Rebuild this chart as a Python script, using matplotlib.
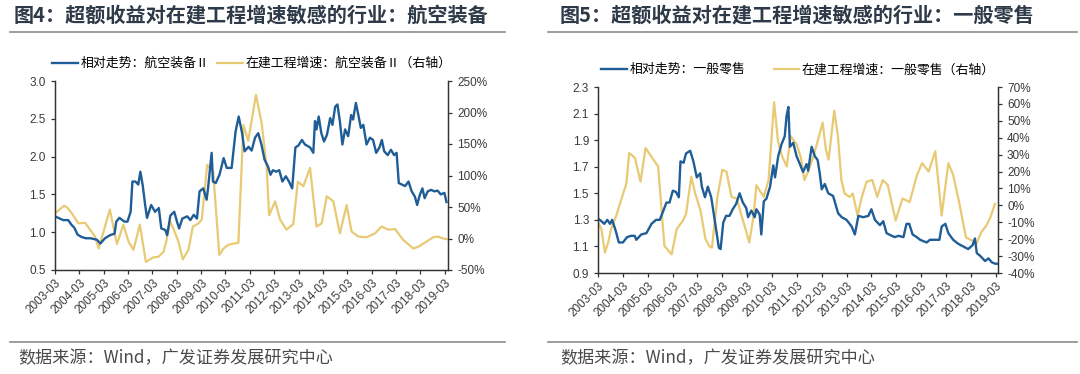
import numpy as np
import pandas as pd
import matplotlib
matplotlib.use('Agg')
import matplotlib.pyplot as plt
import matplotlib.dates as mdates
from matplotlib.ticker import FuncFormatter

plt.rcParams['font.family'] = ['Liberation Sans', 'Noto Sans CJK SC']

# ---- Figure 4: aviation equipment ------------------------------------------
av_rel_dates = [
    '2003-03-01', '2003-07-01', '2003-09-15', '2003-11-01', '2003-12-15', '2004-02-01',
    '2004-03-25', '2004-06-01', '2004-08-15', '2004-11-20', '2005-01-08', '2005-03-20',
    '2005-06-01', '2005-08-10', '2005-09-05', '2005-10-22', '2006-01-05', '2006-02-20',
    '2006-04-08', '2006-05-05', '2006-06-20', '2006-08-01', '2006-09-01', '2006-10-05',
    '2006-11-15', '2006-12-10', '2007-02-10', '2007-04-10', '2007-06-05', '2007-07-12',
    '2007-09-10', '2007-10-08', '2007-11-25', '2008-01-22', '2008-03-10', '2008-04-05',
    '2008-05-22', '2008-08-05', '2008-09-20', '2008-11-10', '2008-12-28', '2009-02-05',
    '2009-04-01', '2009-05-22', '2009-06-12', '2009-08-05', '2009-08-25', '2009-10-05',
    '2009-12-01', '2010-02-01', '2010-03-20', '2010-06-01', '2010-07-30', '2010-09-15',
    '2010-11-05', '2010-12-12', '2011-02-10', '2011-03-28', '2011-05-18', '2011-07-05',
    '2011-08-22', '2011-10-08', '2011-11-28', '2012-01-05', '2012-02-10', '2012-03-28',
    '2012-05-15', '2012-07-01', '2012-08-22', '2012-10-08', '2012-11-25', '2013-01-12',
    '2013-03-01', '2013-04-20', '2013-06-05', '2013-08-22', '2013-10-08', '2013-11-02',
    '2013-11-25', '2013-12-28', '2014-02-05', '2014-03-18', '2014-05-01', '2014-06-18',
    '2014-07-22', '2014-09-01', '2014-10-05', '2014-11-10', '2014-12-18', '2015-01-28',
    '2015-03-15', '2015-04-28', '2015-05-28', '2015-07-08', '2015-08-15', '2015-09-20',
    '2015-10-28', '2015-12-15', '2016-02-05', '2016-03-22', '2016-05-08', '2016-06-25',
    '2016-08-01', '2016-09-05', '2016-10-28', '2016-12-15', '2017-02-01', '2017-03-10',
    '2017-04-12', '2017-05-30', '2017-07-15', '2017-09-05', '2017-10-22', '2017-12-10',
    '2018-01-12', '2018-02-20', '2018-04-01', '2018-05-05', '2018-06-20', '2018-08-08',
    '2018-09-28', '2018-11-15', '2019-01-01', '2019-02-25', '2019-03-28']
av_rel = [
    1.21, 1.16, 1.16, 1.10, 1.06, 0.97, 0.94, 0.92, 0.92, 0.90, 0.85, 0.92,
    0.96, 0.98, 1.14, 1.19, 1.14, 1.14, 1.27, 1.67, 1.67, 1.63, 1.80, 1.63,
    1.34, 1.19, 1.36, 1.27, 1.32, 1.05, 1.03, 0.96, 1.22, 1.27, 1.12, 1.05,
    1.18, 1.21, 1.16, 1.23, 1.18, 1.54, 1.58, 1.43, 1.58, 2.05, 1.67, 1.65,
    1.76, 1.98, 1.85, 1.85, 2.33, 2.53, 2.31, 2.07, 2.13, 2.08, 2.25, 2.31,
    2.16, 1.96, 1.87, 1.76, 1.82, 1.80, 1.82, 1.67, 1.74, 1.67, 1.58, 2.12,
    2.15, 2.22, 2.16, 2.12, 2.05, 2.47, 2.36, 2.53, 2.31, 2.20, 2.29, 2.51,
    2.42, 2.66, 2.69, 2.47, 2.16, 2.36, 2.27, 2.55, 2.49, 2.71, 2.55, 2.38,
    2.42, 2.16, 2.25, 2.22, 2.05, 2.12, 2.22, 2.07, 2.02, 2.09, 2.02, 2.05,
    1.65, 1.63, 1.61, 1.67, 1.54, 1.47, 1.36, 1.49, 1.58, 1.45, 1.54, 1.56,
    1.54, 1.55, 1.50, 1.52, 1.40]

av_cip_dates = [
    '2003-03-01', '2003-07-15', '2003-09-01', '2003-11-08', '2004-02-15', '2004-05-25',
    '2004-08-08', '2004-10-22', '2004-12-15', '2005-06-01', '2005-09-15', '2005-12-20',
    '2006-03-08', '2006-05-20', '2006-08-25', '2006-11-22', '2007-03-15', '2007-06-01',
    '2007-08-15', '2007-10-01', '2007-11-22', '2008-01-08', '2008-03-25', '2008-05-30',
    '2008-08-22', '2008-10-28', '2009-01-20', '2009-03-10', '2009-05-30', '2009-08-28',
    '2009-11-28', '2010-01-30', '2010-04-12', '2010-06-28', '2010-09-10', '2010-11-25',
    '2011-02-05', '2011-06-01', '2011-08-25', '2011-11-08', '2011-12-15', '2012-03-15',
    '2012-05-28', '2012-09-01', '2012-12-12', '2013-02-18', '2013-05-12', '2013-08-20',
    '2013-11-25', '2014-02-10', '2014-04-28', '2014-08-05', '2014-11-10', '2015-02-20',
    '2015-05-05', '2015-08-15', '2015-12-15', '2016-04-20', '2016-07-28', '2016-11-08',
    '2017-02-15', '2017-06-15', '2017-11-15', '2018-01-30', '2018-06-01', '2018-09-12',
    '2018-11-25', '2019-02-05', '2019-03-28']
av_cip = [
    40, 52, 49, 40, 24, 25, 14, 3, -16, 46, -9, 22,
    -5, -18, 22, -37, -30, -29, -21, -2, 27, 16, -5, -33,
    -18, 19, 24, 30, 117, 106, -26, -16, -10, -8, -7, 180,
    155, 228, 183, 114, 37, 59, 30, 14, 23, 90, 83, 112,
    19, 24, 67, 59, 8, 53, 11, 3, 2, 8, 19, 14,
    15, -2, -16, -13, -5, 2, 3, 0, -1]

# ---- Figure 5: general retail ----------------------------------------------
rt_rel_dates = [
    '2003-03-01', '2003-04-20', '2003-06-01', '2003-07-15', '2003-08-25', '2003-09-25',
    '2003-11-15', '2004-01-01', '2004-03-01', '2004-05-01', '2004-07-01', '2004-08-20',
    '2004-09-15', '2004-11-25', '2005-02-10', '2005-04-25', '2005-07-01', '2005-08-25',
    '2005-10-10', '2005-12-01', '2006-01-15', '2006-03-05', '2006-04-20', '2006-06-01',
    '2006-06-25', '2006-08-10', '2006-09-15', '2006-11-15', '2007-01-01', '2007-02-20',
    '2007-04-10', '2007-05-05', '2007-06-20', '2007-08-01', '2007-09-20', '2007-11-10',
    '2008-01-10', '2008-02-05', '2008-03-15', '2008-04-25', '2008-06-15', '2008-08-01',
    '2008-09-20', '2008-11-10', '2008-12-28', '2009-02-15', '2009-03-15', '2009-05-01',
    '2009-06-20', '2009-07-15', '2009-09-01', '2009-09-25', '2009-11-01', '2009-12-10',
    '2010-02-01', '2010-03-20', '2010-04-15', '2010-06-01', '2010-07-20', '2010-09-05',
    '2010-10-01', '2010-10-28', '2010-11-20', '2011-01-08', '2011-02-25', '2011-04-15',
    '2011-06-01', '2011-07-22', '2011-08-15', '2011-10-05', '2011-11-20', '2012-01-01',
    '2012-02-01', '2012-03-01', '2012-04-15', '2012-06-05', '2012-08-15', '2012-10-28',
    '2012-12-20', '2013-03-01', '2013-05-15', '2013-07-01', '2013-08-22', '2013-11-01',
    '2014-01-15', '2014-03-01', '2014-04-22', '2014-07-05', '2014-08-22', '2014-10-10',
    '2014-12-25', '2015-02-10', '2015-04-01', '2015-06-15', '2015-07-30', '2015-09-08',
    '2015-10-28', '2015-12-28', '2016-02-15', '2016-04-01', '2016-05-22', '2016-07-08',
    '2016-09-20', '2016-11-25', '2016-12-28', '2017-02-20', '2017-04-05', '2017-06-15',
    '2017-08-28', '2017-11-10', '2018-01-22', '2018-03-28', '2018-05-01', '2018-05-28',
    '2018-07-15', '2018-09-28', '2018-11-15', '2019-01-05', '2019-02-22', '2019-04-01']
rt_rel = [
    1.31, 1.29, 1.27, 1.30, 1.27, 1.30, 1.22, 1.13, 1.13, 1.17, 1.18, 1.18,
    1.15, 1.19, 1.20, 1.27, 1.30, 1.30, 1.36, 1.43, 1.43, 1.52, 1.51, 1.47,
    1.74, 1.73, 1.80, 1.82, 1.74, 1.62, 1.65, 1.55, 1.47, 1.55, 1.47, 1.30,
    1.09, 1.08, 1.28, 1.33, 1.33, 1.38, 1.42, 1.50, 1.43, 1.39, 1.32, 1.37,
    1.32, 1.38, 1.34, 1.19, 1.44, 1.46, 1.55, 1.71, 1.62, 1.78, 1.87, 1.93,
    2.08, 2.15, 1.85, 1.88, 1.78, 1.72, 1.66, 1.72, 1.67, 1.85, 1.78, 1.75,
    1.65, 1.53, 1.57, 1.50, 1.48, 1.35, 1.32, 1.30, 1.25, 1.19, 1.33, 1.32,
    1.33, 1.38, 1.30, 1.26, 1.29, 1.20, 1.18, 1.17, 1.18, 1.17, 1.27, 1.27,
    1.19, 1.17, 1.15, 1.14, 1.13, 1.15, 1.15, 1.15, 1.25, 1.27, 1.20, 1.15,
    1.12, 1.10, 1.08, 1.11, 1.16, 1.05, 1.03, 0.99, 1.01, 0.98, 0.97, 0.97]

rt_cip_dates = [
    '2003-03-01', '2003-04-20', '2003-06-10', '2003-07-28', '2003-09-10', '2003-11-25',
    '2004-02-10', '2004-04-22', '2004-06-01', '2004-08-25', '2004-11-15', '2005-01-28',
    '2005-04-20', '2005-08-01', '2005-11-01', '2006-02-15', '2006-05-01', '2006-08-01',
    '2006-09-15', '2006-12-01', '2007-01-28', '2007-04-15', '2007-06-28', '2007-08-20',
    '2007-10-01', '2007-12-20', '2008-03-01', '2008-05-01', '2008-07-15', '2008-10-01',
    '2008-12-01', '2009-02-05', '2009-04-01', '2009-06-01', '2009-07-15', '2009-08-28',
    '2009-11-01', '2010-01-10', '2010-04-01', '2010-05-28', '2010-07-28', '2010-10-05',
    '2010-12-01', '2011-02-28', '2011-05-01', '2011-06-20', '2011-08-15', '2011-11-01',
    '2012-01-15', '2012-03-15', '2012-05-01', '2012-06-10', '2012-09-01', '2012-10-25',
    '2012-12-15', '2013-02-01', '2013-04-15', '2013-06-01', '2013-08-10', '2013-10-05',
    '2013-12-20', '2014-03-15', '2014-05-25', '2014-08-15', '2014-10-28', '2015-02-20',
    '2015-06-01', '2015-09-15', '2016-01-01', '2016-03-15', '2016-06-20', '2016-09-25',
    '2016-12-28', '2017-04-05', '2017-06-15', '2017-09-10', '2017-12-20', '2018-03-28',
    '2018-05-20', '2018-08-01', '2018-10-15', '2018-12-15', '2019-02-20']
rt_cip = [
    -10, -14, -28, -22, -14, -6, 4, 13, 31, 28, 14, 34,
    29, 23, -24, -29, -14, -9, -5, 17, 7, -3, -20, -24,
    -25, 5, 21, 20, 5, 4, -5, -14, -22, -7, 12, 9,
    5, 15, 61, 38, 29, 23, 41, 36, 28, 15, 20, 29,
    40, 49, 33, 27, 56, 41, 15, 7, 5, 7, -6, 4,
    14, 15, 5, 15, 12, -9, 4, 2, 18, 25, 20, 32,
    -6, 25, 18, 2, -19, -21, -23, -16, -12, -7, 1]

tick_dates = pd.date_range('2003-03-01', '2019-03-01', freq='12MS')

BLUE = '#1f5d96'
GOLD = '#e8c974'
TXT = '#3a3a3a'
W, H = 1080, 374


def px_axes(fig, x0, y0, x1, y1):
    # axes placed from pixel box (top-left origin)
    return fig.add_axes([x0 / W, 1 - y1 / H, (x1 - x0) / W, (y1 - y0) / H])


def panel(fig, box, rel_d, rel_v, cip_d, cip_v, yticks, y2ticks, xend,
          labels, colsp):
    ax = px_axes(fig, *box)
    ax2 = ax.twinx()
    ax.set_zorder(ax2.get_zorder() + 1)
    ax.patch.set_visible(False)

    l2, = ax2.plot(pd.to_datetime(cip_d), cip_v, color=GOLD, lw=1.6)
    l1, = ax.plot(pd.to_datetime(rel_d), rel_v, color=BLUE, lw=1.7)

    ax.set_xlim(pd.Timestamp('2003-03-01'), pd.Timestamp(xend))
    ax.set_ylim(yticks[0], yticks[-1])
    ax.set_yticks(yticks)
    ax.yaxis.set_major_formatter(FuncFormatter(lambda v, p: f'{v:.1f}'))
    ax2.set_ylim(y2ticks[0], y2ticks[-1])
    ax2.set_yticks(y2ticks)
    ax2.yaxis.set_major_formatter(FuncFormatter(lambda v, p: f'{v:.0f}%'))

    ax.set_xticks(tick_dates)
    ax.xaxis.set_major_formatter(mdates.DateFormatter('%Y-%m'))
    for lab in ax.get_xticklabels():
        lab.set_rotation(45)
        lab.set_ha('right')
        lab.set_rotation_mode('anchor')

    for a in (ax, ax2):
        a.spines['top'].set_visible(False)
        for s in ('left', 'right', 'bottom'):
            a.spines[s].set_color('#333333')
            a.spines[s].set_linewidth(0.9)
        a.tick_params(labelsize=8.5, colors='#333333', labelcolor=TXT,
                      length=3, width=0.9)
    ax.tick_params(axis='x', pad=2)

    ax.legend([l1, l2], labels, loc='lower center', ncol=2, frameon=False,
              bbox_to_anchor=(0.5, 1.03), handlelength=2.0,
              handletextpad=0.2, columnspacing=colsp, borderaxespad=0,
              prop={'family': ['Noto Sans CJK SC'], 'size': 9.3})
    return ax


fig = plt.figure(figsize=(10.8, 3.74), dpi=100)

panel(fig, (55, 81, 448, 270), av_rel_dates, av_rel, av_cip_dates, av_cip,
      np.arange(0.5, 3.01, 0.5), np.arange(-50, 251, 50), '2019-04-20',
      ['相对走势：航空装备Ⅱ', '在建工程增速：航空装备Ⅱ（右轴）'], 0.6)
panel(fig, (598, 87, 998, 273), rt_rel_dates, rt_rel, rt_cip_dates, rt_cip,
      np.arange(0.9, 2.31, 0.2), np.arange(-40, 71, 10), '2019-04-05',
      ['相对走势：一般零售', '在建工程增速：一般零售（右轴）'], 2.2)

cjk = ['Noto Sans CJK SC']
fig.text(14 / W, 1 - 15 / H, '图4：超额收益对在建工程增速敏感的行业：航空装备',
         fontsize=14.5, fontweight='bold', color='#2e3a48', family=cjk,
         va='center', ha='left')
fig.text(560 / W, 1 - 15 / H, '图5：超额收益对在建工程增速敏感的行业：一般零售',
         fontsize=14.5, fontweight='bold', color='#2e3a48', family=cjk,
         va='center', ha='left')

for x0, x1 in ((10, 505), (548, 1077)):
    fig.add_artist(plt.Line2D([x0 / W, x1 / W], [1 - 32 / H] * 2,
                              color='#8c8c8c', lw=1.2))
    fig.add_artist(plt.Line2D([x0 / W, x1 / W], [1 - 342 / H] * 2,
                              color='#8c8c8c', lw=1.2))

fig.text(18 / W, 1 - 358 / H, '数据来源：Wind，广发证券发展研究中心',
         fontsize=12.3, color='#4a4a4a', family=cjk, va='center', ha='left')
fig.text(560 / W, 1 - 358 / H, '数据来源：Wind，广发证券发展研究中心',
         fontsize=12.3, color='#4a4a4a', family=cjk, va='center', ha='left')

fig.savefig('out.png', dpi=100)
